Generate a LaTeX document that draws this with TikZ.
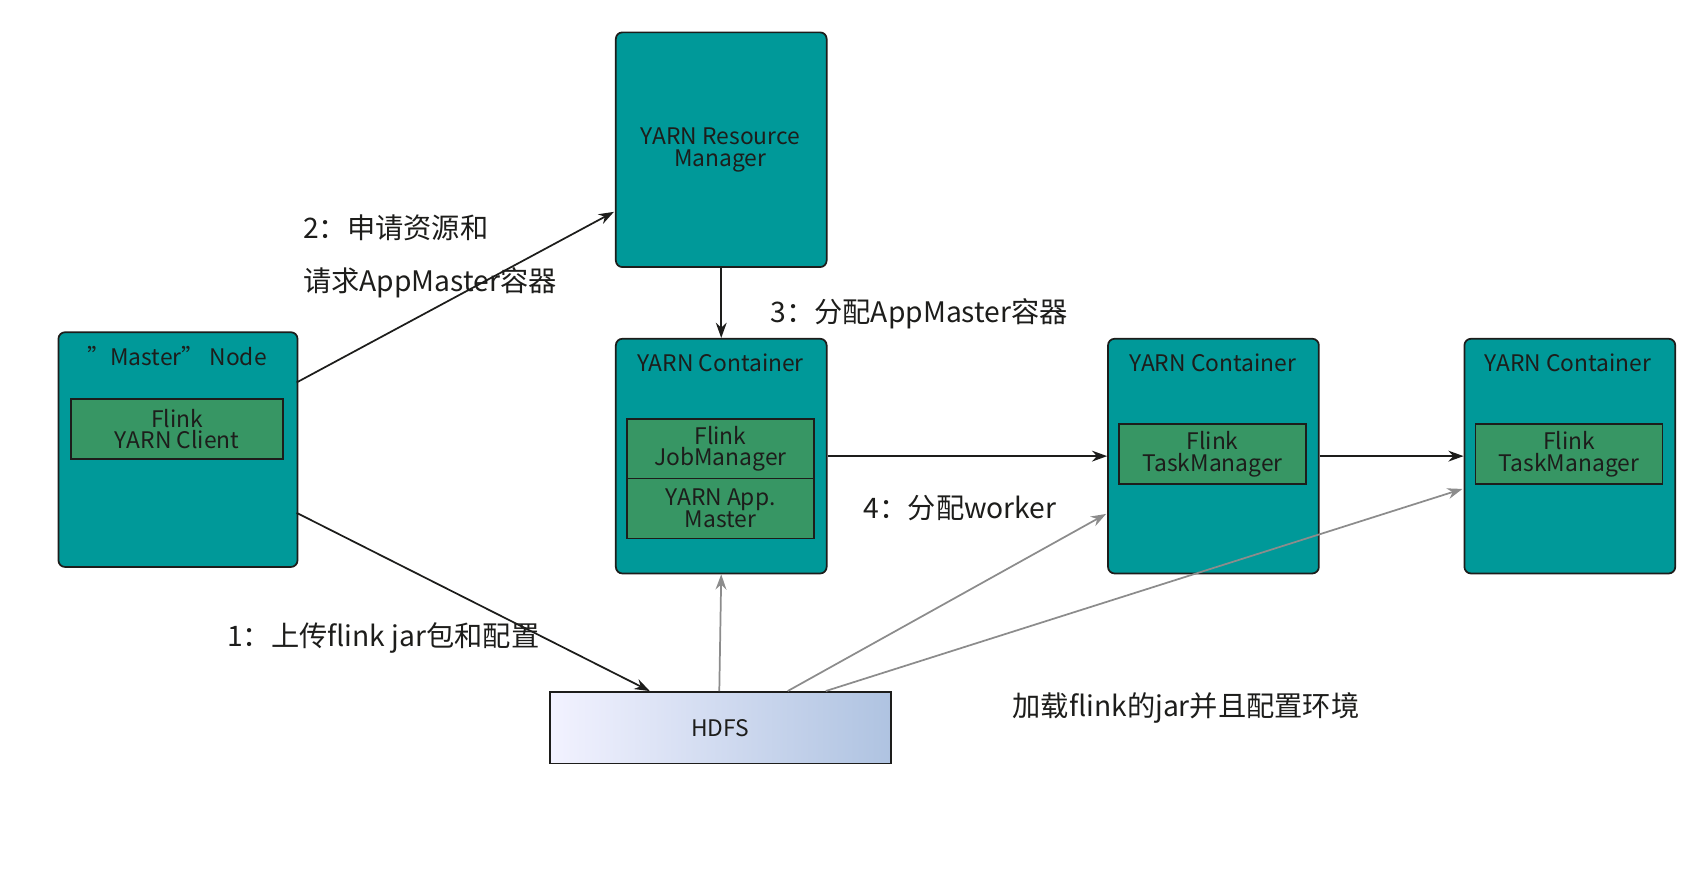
\documentclass[tikz,border=0pt]{standalone}
\usepackage{fontspec}
\setmainfont{Noto Sans CJK SC}
\usetikzlibrary{positioning,arrows.meta,shapes.geometric}
\definecolor{colorbox}  {RGB}{0  ,153,153}
\definecolor{colorinner}{RGB}{55 ,150,100}
\definecolor{colortext} {RGB}{29 ,29 ,27 }
\definecolor{colorgray} {RGB}{140,140,140}

\begin{document}
\begin{tikzpicture}[
    x=0.5pt, y=-0.5pt,
    font={\fontsize{10.5}{12}\selectfont},
    box/.style={draw=colortext,fill=colorbox,rounded corners=3pt,thick,minimum width=97pt,minimum height=108pt,anchor=north west,inner sep=0pt},
    inner/.style={draw=colortext,fill=colorinner,thick,minimum width=86pt,minimum height=27.5pt,align=center,inner sep=0pt,text=colortext},
    title/.style={text=colortext},
    lbl/.style={text=colortext,font={\fontsize{13}{15}\selectfont},anchor=west},
    arr/.style={-{Stealth[length=7pt,width=5pt]},thick,draw=colortext},
    garr/.style={-{Stealth[length=7pt,width=5pt]},thick,draw=colorgray},
]
    \useasboundingbox (0,0) rectangle (1560,817);

    % Boxes
    \node[box,minimum width=110pt] (master) at (53,305) {};
    \node[title] at (163,328) {"Master" Node};
    \node[inner,minimum width=97.5pt] (client) at (163,395) {Flink\\[-2pt]YARN Client};

    \node[box] (rm) at (566,29) {};
    \node[title,align=center] at (663,138) {YARN Resource\\[-2pt]Manager};

    \node[box] (c1) at (566,311) {};
    \node[title] at (663,334) {YARN Container};
    \node[inner] (jm) at (663,413) {Flink\\[-2pt]JobManager};
    \node[inner] (am) at (663,468) {YARN App.\\[-2pt]Master};

    \node[box] (c2) at (1019,311) {};
    \node[title] at (1116,334) {YARN Container};
    \node[inner] (tm1) at (1116,418) {Flink\\[-2pt]TaskManager};

    \node[box] (c3) at (1347,311) {};
    \node[title] at (1443,334) {YARN Container};
    \node[inner] (tm2) at (1444,418) {Flink\\[-2pt]TaskManager};

    % HDFS
    \node[cylinder,shape border rotate=90,aspect=0.12,draw=colortext,thick,
          minimum width=157pt,minimum height=33pt,inner sep=0pt,
          left color=white!95!blue,right color={rgb,255:red,175;green,195;blue,225}] (hdfs) at (663,670) {};
    \node[title] at (663,670) {HDFS};

    \coordinate (m1) at (273,352);
    \coordinate (m2) at (273,472);
    \coordinate (rmin) at (565,195);
    \coordinate (h1) at (598,636);
    \coordinate (h2) at (662,636);
    \coordinate (h3) at (725,636);
    \coordinate (h4) at (760,636);

    % Arrows
    \draw[arr] (m1) -- (rmin);
    \draw[arr] (m2) -- (h1);
    \draw[arr] (rm.south) -- (c1.north);
    \draw[arr] (c1.east) -- (c2.west);
    \draw[arr] (c2.east) -- (c3.west);
    \draw[garr] (h2) -- (c1.south);
    \draw[garr] (h3) -- (1018,473);
    \draw[garr] (h4) -- (1346,450);

    % Labels
    \node[lbl] at (272,210) {2：申请资源和};
    \node[lbl] at (272,260) {请求AppMaster容器};
    \node[lbl] at (702,289) {3：分配AppMaster容器};
    \node[lbl] at (788,468) {4：分配worker};
    \node[lbl] at (202,587) {1：上传flink jar包和配置};
    \node[lbl] at (925,652) {加载flink的jar并且配置环境};
\end{tikzpicture}
\end{document}
